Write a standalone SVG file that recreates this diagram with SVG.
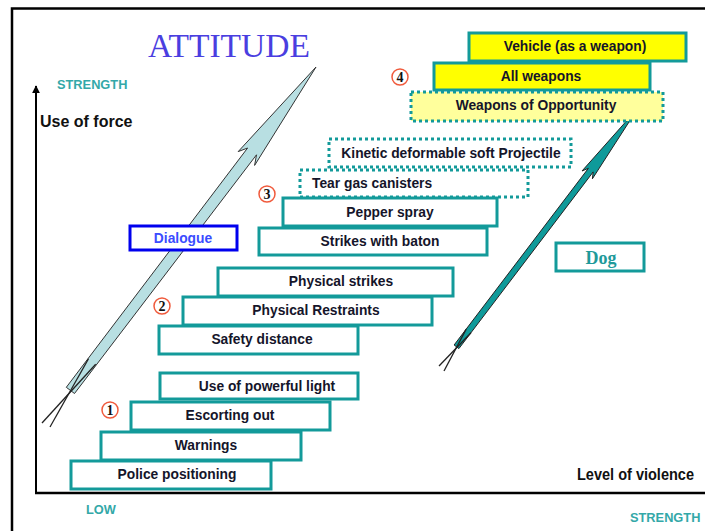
<svg xmlns="http://www.w3.org/2000/svg" width="705" height="531" viewBox="0 0 705 531">
<defs>
<style>
.box{fill:#fff;stroke:#139a9a;stroke-width:3}
.dot{fill:#fff;stroke:#139a9a;stroke-width:3;stroke-dasharray:3 3}
.lbl{font-family:"Liberation Sans",Arial,sans-serif;font-weight:bold;font-size:13.8px;fill:#15152a;text-anchor:middle}
.num{fill:#fff;stroke:#f05a3c;stroke-width:1.5}
.numt{font-family:"Liberation Serif","Times New Roman",serif;font-weight:bold;font-size:14px;fill:#111;text-anchor:middle}
.str{font-family:"Liberation Sans",Arial,sans-serif;font-weight:bold;font-size:12.8px;fill:#33a8a8}
.ax{font-family:"Liberation Sans",Arial,sans-serif;font-weight:bold;font-size:16px;fill:#111}
</style>
<marker id="ah" viewBox="0 0 10 10" refX="9" refY="5" markerWidth="4" markerHeight="4" orient="auto">
<path d="M0,0 L10,5 L0,10 z" fill="#000"/>
</marker>
</defs>
<rect width="705" height="531" fill="#fff"/>
<!-- frame -->
<path d="M12,531 V8.5 H705" fill="none" stroke="#000" stroke-width="2.5"/>
<!-- title -->
<text x="148" y="57" font-family="'Liberation Serif','Times New Roman',serif" font-size="34" fill="#4a3ee0" textLength="162" lengthAdjust="spacingAndGlyphs">ATTITUDE</text>
<!-- axes -->
<g id="axes">
<line x1="36" y1="494" x2="36" y2="86" stroke="#000" stroke-width="2" marker-end="url(#ah)"/>
<line x1="35" y1="493" x2="705" y2="493" stroke="#000" stroke-width="2.5"/>
<text class="str" x="57" y="89">STRENGTH</text>
<text class="ax" x="40" y="127">Use of force</text>
<text class="ax" x="577" y="480" textLength="117" lengthAdjust="spacingAndGlyphs">Level of violence</text>
<text class="str" x="86" y="514">LOW</text>
<text class="str" x="630" y="522">STRENGTH</text>
</g>
<!-- arrows -->
<g id="connectors">
<polygon points="316,67 254.6,165.4 256.5,154.8 74.5,393.5 66.3,387.3 247.6,148 238.2,151.6" fill="#b8dfe2" stroke="#333" stroke-width="1"/>
<line x1="95.7" y1="364.2" x2="42" y2="423" stroke="#222" stroke-width="1.3"/>
<line x1="88.5" y1="358.8" x2="50" y2="427" stroke="#222" stroke-width="1.3"/>
<polygon points="638,108 592.4,178.8 593.2,171.9 458.9,348.6 454.1,345 588.4,168.3 582,171" fill="#0f9a9a" stroke="#222" stroke-width="1"/>
<line x1="471" y1="332.7" x2="439" y2="366" stroke="#222" stroke-width="1.3"/>
<line x1="466.2" y1="329.1" x2="444" y2="371" stroke="#222" stroke-width="1.3"/>
</g>
<!-- level 4 -->
<g id="vehicle"><rect x="469" y="33" width="217" height="28" fill="#ffff00" stroke="#139a9a" stroke-width="3"/><text class="lbl" x="575" y="51">Vehicle (as a weapon)</text></g>
<g id="opportunity"><rect x="411" y="92" width="252" height="29" fill="#ffff9c" stroke="#139a9a" stroke-width="3" stroke-dasharray="3 3"/><text class="lbl" x="536" y="110">Weapons of Opportunity</text></g>
<g id="allweapons"><rect x="434" y="63" width="216" height="27" fill="#ffff00" stroke="#139a9a" stroke-width="3"/><text class="lbl" x="541" y="81">All  weapons</text></g>
<!-- level 3 -->
<g id="kinetic"><rect class="dot" x="329" y="139" width="242" height="28"/><text class="lbl" x="451" y="158">Kinetic deformable soft Projectile</text></g>
<g id="teargas"><rect class="dot" x="300" y="170" width="228" height="27"/><text class="lbl" x="312" y="188" style="text-anchor:start">Tear  gas canisters</text></g>
<g id="pepper"><rect class="box" x="283" y="198" width="214" height="28"/><text class="lbl" x="390" y="217">Pepper spray</text></g>
<g id="baton"><rect class="box" x="259" y="228" width="228" height="27"/><text class="lbl" x="380" y="246">Strikes with baton</text></g>
<!-- level 2 -->
<g id="pstrikes"><rect class="box" x="218" y="268" width="235" height="28"/><text class="lbl" x="341" y="286">Physical strikes</text></g>
<g id="prestraints"><rect class="box" x="183" y="297" width="249" height="28"/><text class="lbl" x="316" y="315">Physical Restraints</text></g>
<g id="safety"><rect class="box" x="159" y="326" width="199" height="28"/><text class="lbl" x="262" y="344">Safety  distance</text></g>
<!-- level 1 -->
<g id="light"><rect class="box" x="160" y="373" width="198" height="26"/><text class="lbl" x="267" y="391">Use of powerful light</text></g>
<g id="escorting"><rect class="box" x="131" y="402" width="199" height="28"/><text class="lbl" x="230" y="420">Escorting out</text></g>
<g id="warnings"><rect class="box" x="101" y="432" width="200" height="28"/><text class="lbl" x="206" y="450">Warnings</text></g>
<g id="police"><rect class="box" x="71" y="461" width="200" height="28"/><text class="lbl" x="177" y="479">Police positioning</text></g>
<!-- others -->
<g id="dialogue"><rect x="130" y="226" width="107" height="24" fill="#fff" stroke="#0000ee" stroke-width="3"/><text class="lbl" x="183" y="243" style="fill:#3a4cff">Dialogue</text></g>
<g id="dog"><rect class="box" x="556" y="243" width="88" height="28"/><text x="601" y="264" font-family="'Liberation Serif','Times New Roman',serif" font-weight="bold" font-size="18" fill="#1f9a9a" text-anchor="middle">Dog</text></g>
<!-- numbers -->
<g id="n1"><circle class="num" cx="110" cy="410" r="8"/><text class="numt" x="110" y="415">1</text></g>
<g id="n2"><circle class="num" cx="162" cy="306" r="8"/><text class="numt" x="162" y="311">2</text></g>
<g id="n3"><circle class="num" cx="267" cy="194" r="8"/><text class="numt" x="267" y="199">3</text></g>
<g id="n4"><circle class="num" cx="400" cy="77" r="8"/><text class="numt" x="400" y="82">4</text></g>
</svg>
